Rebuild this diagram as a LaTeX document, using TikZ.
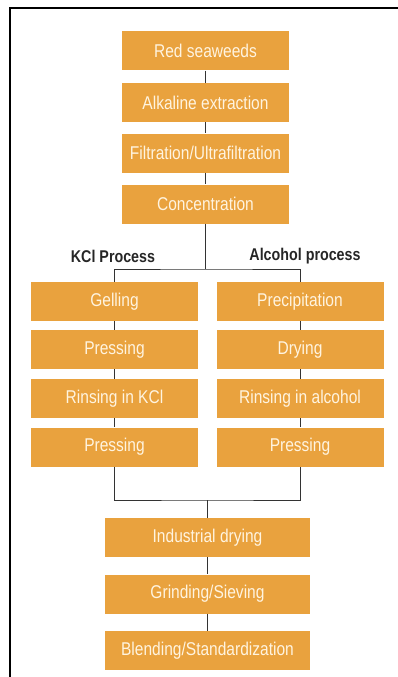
\documentclass[tikz,border=0pt]{standalone}
\usepackage{fontspec}
\setmainfont[FakeStretch=0.84]{Liberation Sans}
\definecolor{seaorange}{HTML}{E9A23E}
\definecolor{paletext}{HTML}{FFF4E0}
\definecolor{linegray}{HTML}{333333}

\begin{document}
\begin{tikzpicture}[x=1pt,y=-1pt,
  stage/.style={fill=seaorange, text=paletext, minimum width=167pt,
    minimum height=39pt, inner sep=0pt, font=\fontsize{18.5}{20}\selectfont},
  widestage/.style={stage, minimum width=205pt},
  route/.style={text=black!85, font=\fontsize{17}{19}\selectfont\bfseries},
  link/.style={draw=linegray, line width=0.9pt}]
\useasboundingbox (0,0) rectangle (398,677);
\draw[line width=2pt] (10,677) -- (10,8) -- (398,8);

% common steps
\node [stage] (seaweed) at (205.5,51) {Red seaweeds};
\node [stage] (extract) at (205.5,102.5) {Alkaline extraction};
\node [stage] (filter) at (205.5,153) {Filtration/Ultrafiltration};
\node [stage] (conc) at (205.5,204) {Concentration};

% the two routes
\node [route] (kcl) at (113,256) {KCl Process};
\node [route] (alc) at (305,256) {Alcohol process};

\node [stage] (gel) at (114.5,301.5) {Gelling};
\node [stage] (pressa) at (114.5,349.5) {Pressing};
\node [stage] (rinsekcl) at (114.5,398.5) {Rinsing in KCl};
\node [stage] (pressb) at (114.5,447) {Pressing};

\node [stage] (precip) at (300,301.5) {Precipitation};
\node [stage] (dryalc) at (300,349.5) {Drying};
\node [stage] (rinsealc) at (300,398.5) {Rinsing in alcohol};
\node [stage] (pressc) at (300,447) {Pressing};

% final steps
\node [widestage] (inddry) at (207.5,537.5) {Industrial drying};
\node [widestage] (grind) at (207.5,594) {Grinding/Sieving};
\node [widestage] (blend) at (207.5,650.5) {Blending/Standardization};

\coordinate (split) at (205.5,269);
\coordinate (merge) at (207.5,500);

\draw [link] (seaweed) -- (extract);
\draw [link] (extract) -- (filter);
\draw [link] (filter) -- (conc);
\draw [link] (conc) -- (split);
\draw [link] (gel.north) |- (split) -| (precip.north);
\draw [link] (gel) -- (pressa);
\draw [link] (pressa) -- (rinsekcl);
\draw [link] (rinsekcl) -- (pressb);
\draw [link] (precip) -- (dryalc);
\draw [link] (dryalc) -- (rinsealc);
\draw [link] (rinsealc) -- (pressc);
\draw [link] (pressb.south) |- (merge) -| (pressc.south);
\draw [link] (merge) -- (inddry);
\draw [link] (inddry) -- (grind);
\draw [link] (grind) -- (blend);
\end{tikzpicture}
\end{document}
